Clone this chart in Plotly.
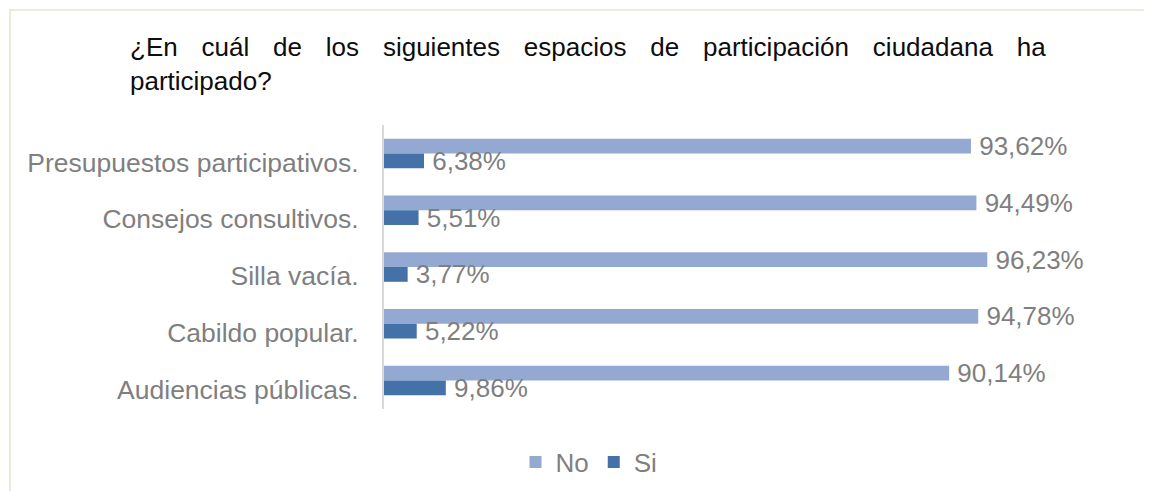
import plotly.graph_objects as go

categorias = [
    "Presupuestos participativos.",
    "Consejos consultivos.",
    "Silla vacía.",
    "Cabildo popular.",
    "Audiencias públicas.",
]
no_vals = [93.62, 94.49, 96.23, 94.78, 90.14]
si_vals = [6.38, 5.51, 3.77, 5.22, 9.86]

titulo_l1 = "¿En cuál de los siguientes espacios de participación ciudadana ha"
titulo_l2 = "participado?"

# the page body adds an 8px margin, so positions are 8px less than in the picture
W, H = 1152, 491
M = dict(l=376, r=60, t=117, b=90)
FONT = "Arial, Liberation Sans, sans-serif"
GRIS = "#7f7f7f"

# rough imitation of the justified first title line
linea1 = "&nbsp;&nbsp;&nbsp;\u200a".join(titulo_l1.split(" "))

fig = go.Figure()
for nombre, vals, color in [("No", no_vals, "#94a9d1"), ("Si", si_vals, "#4371a8")]:
    fig.add_trace(go.Bar(
        name=nombre, y=categorias, x=vals, orientation="h",
        marker=dict(color=color, line_width=0),
        texttemplate="\u2009%{x:.2f}%", textposition="outside", constraintext="none",
        textfont=dict(size=26, color=GRIS, family=FONT), cliponaxis=False,
    ))

pw = W - M["l"] - M["r"]
ph = H - M["t"] - M["b"]
fig.add_shape(
    type="rect", xref="paper", yref="paper",
    x0=(2 - M["l"]) / pw, x1=(1170 - M["l"]) / pw,
    y0=(H - M["b"] - 520) / ph, y1=(H - M["b"] - 2) / ph,
    line=dict(color="#ece9dd", width=2), fillcolor="rgba(0,0,0,0)", layer="below",
)

fig.update_layout(
    width=W, height=H, margin=dict(M, autoexpand=False),
    paper_bgcolor="white", plot_bgcolor="white",
    font=dict(family=FONT, size=26, color=GRIS),
    separators=",.",
    barmode="group", bargap=0.48, bargroupgap=0,
    showlegend=True,
    title=dict(
        text=linea1 + "<br>" + titulo_l2,
        font=dict(size=26, color="#0d0d0d", family=FONT),
        xref="container", yref="container",
        x=122 / W, xanchor="left", y=1 - 48 / H, yanchor="top",
    ),
    legend=dict(
        orientation="h", xref="container", yref="container",
        x=581 / W, xanchor="center", y=1 - 454 / H, yanchor="middle",
        font=dict(size=26, color=GRIS, family=FONT),
        itemwidth=30, traceorder="normal",
    ),
    xaxis=dict(range=[0, 114.2], visible=False, showgrid=False, automargin=False),
    yaxis=dict(
        autorange="reversed", showline=True, linecolor="#d9d9d9", linewidth=2,
        showgrid=False, ticks="", ticklabelstandoff=18, ticklabelshift=-9,
        tickfont=dict(size=26.5, color=GRIS, family=FONT), automargin=False,
    ),
)

fig.write_html("out.html")
